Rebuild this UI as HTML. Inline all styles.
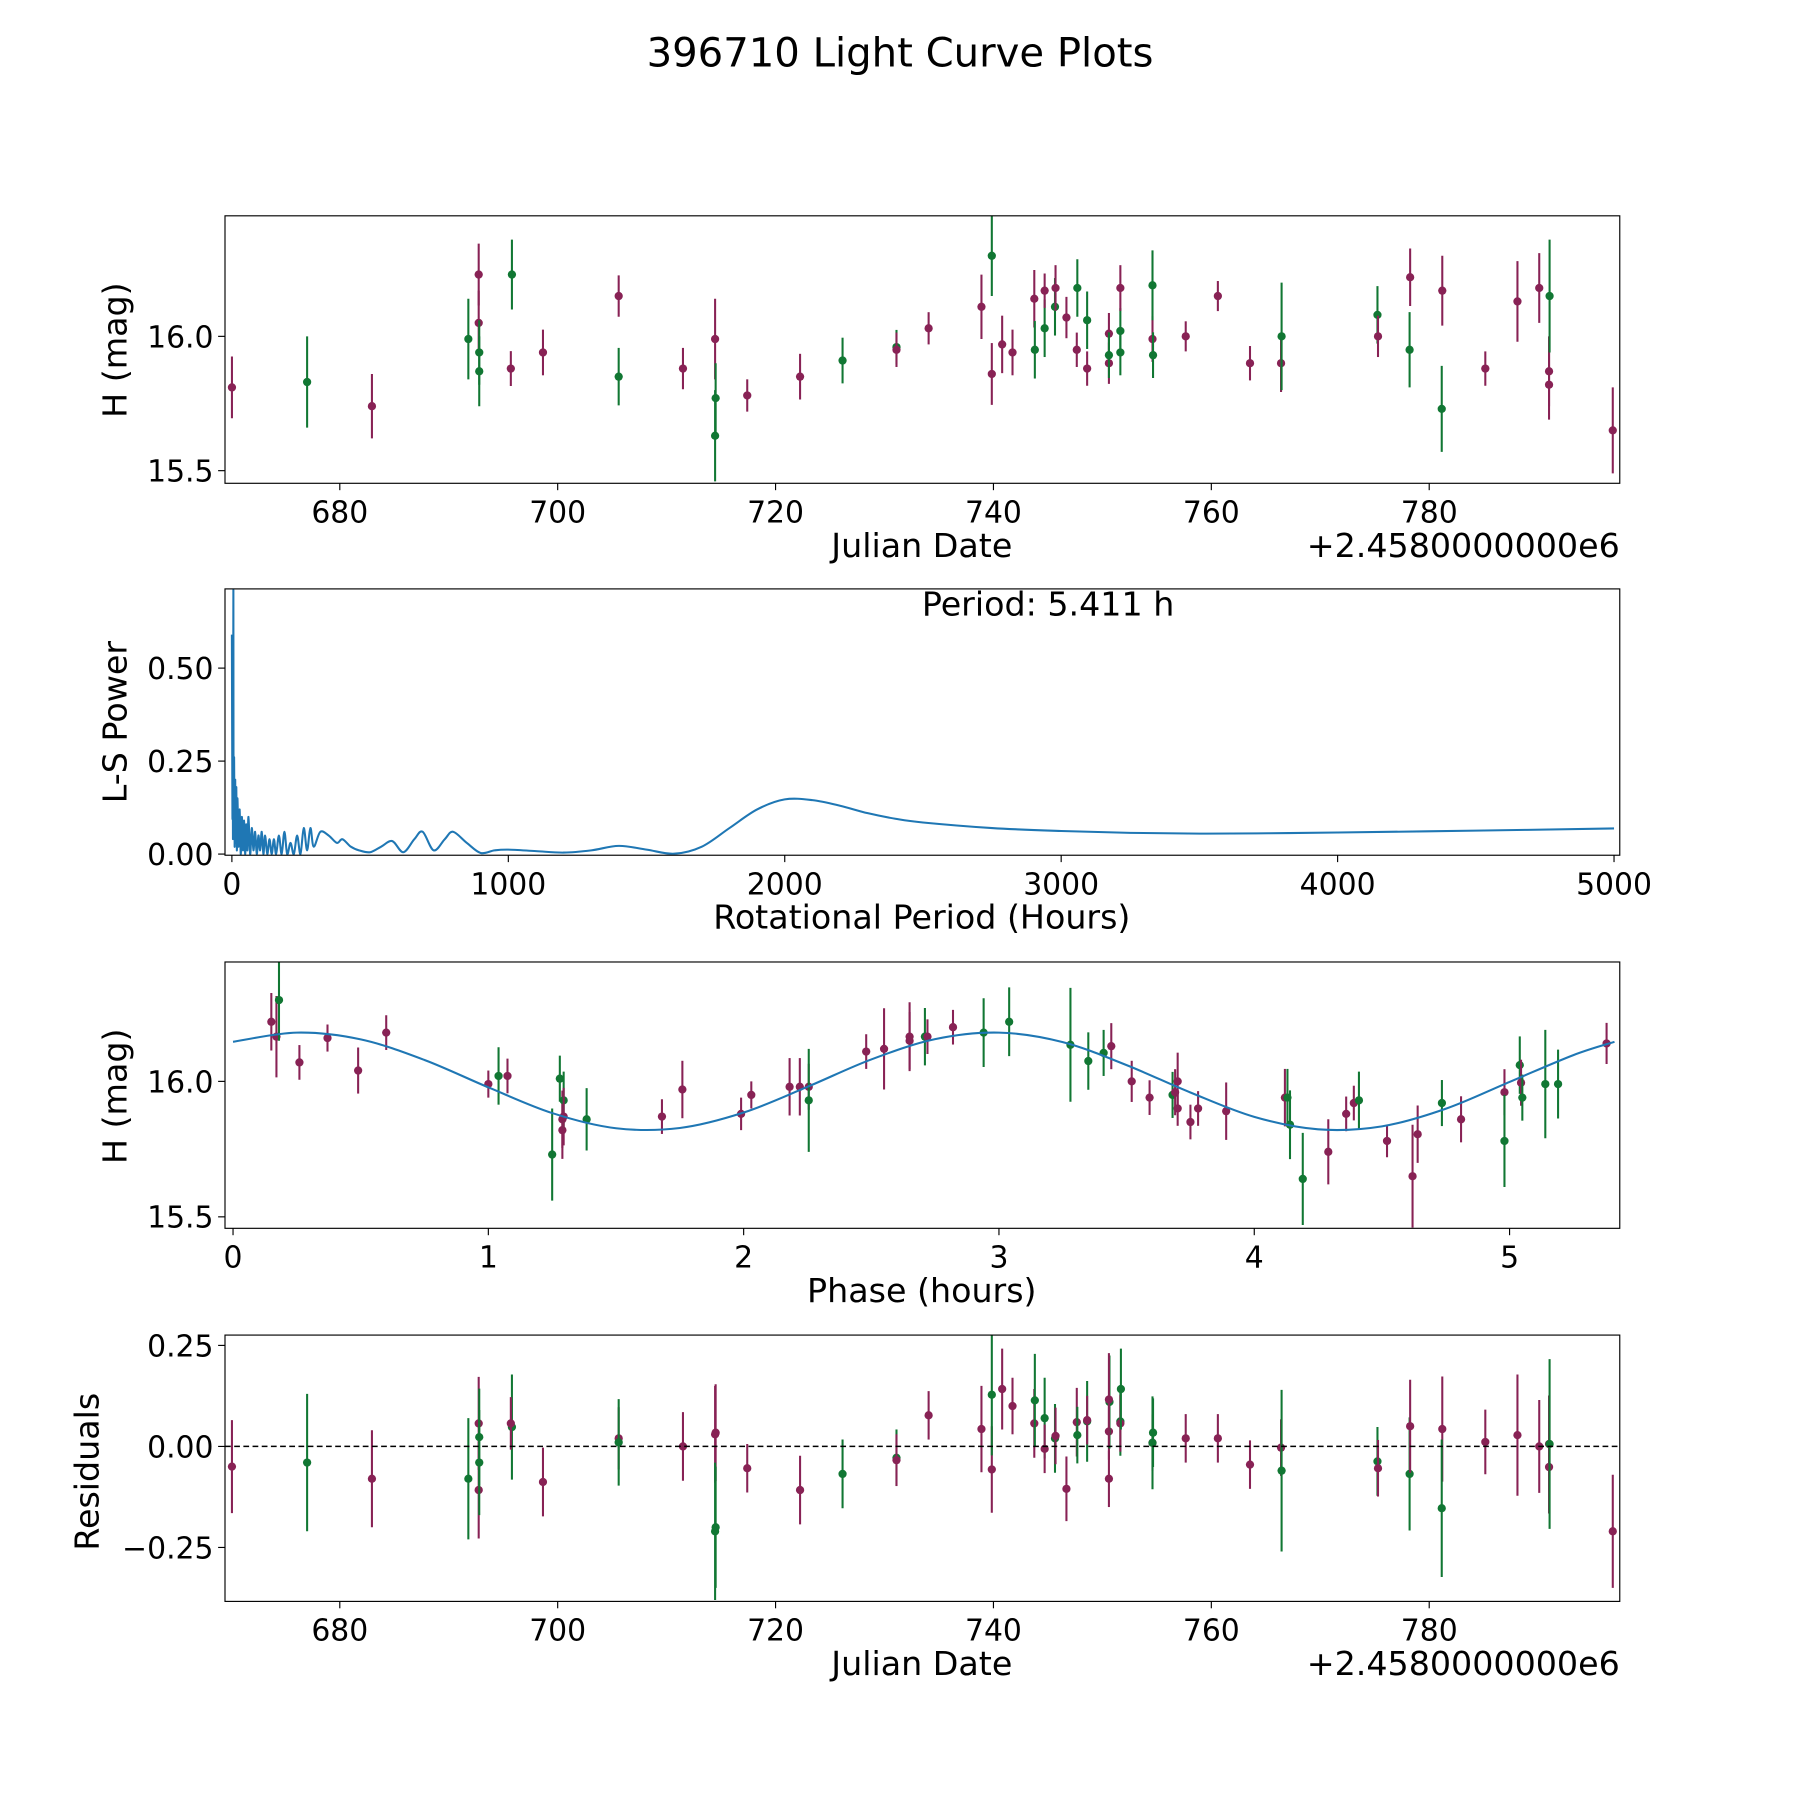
<!DOCTYPE html>
<html><head><meta charset="utf-8"><style>
html,body{margin:0;padding:0;background:#fff}
svg{display:block}
text{font-family:"DejaVu Sans","Liberation Sans",sans-serif;fill:#000}
</style></head><body>
<svg id="fig" xmlns="http://www.w3.org/2000/svg" width="1800" height="1800" viewBox="0 0 1568 1568">
<rect width="1568" height="1568" fill="#fff"/>
<text x="784" y="58" font-size="35" text-anchor="middle">396710 Light Curve Plots</text>
<g id="g1"></g>
<g id="g2"></g>
<g id="g3"></g>
<g id="g4"></g>
</svg>
<script>
// ---- Panel 1: light curve ----
const lcJd = [670.1,677.0,682.95,691.8,692.75,692.75,692.8,692.8,695.8,695.7,698.65,705.6,705.6,711.5,714.45,714.5,714.45,717.4,722.25,726.15,731.1,731.1,734.05,738.9,739.85,739.85,740.8,741.75,743.75,743.8,744.7,744.7,745.65,745.7,746.7,747.65,747.7,748.6,748.6,750.6,750.6,750.6,751.65,751.65,751.65,754.6,754.6,754.65,757.65,760.6,763.55,766.4,766.45,775.25,775.3,778.2,778.25,781.2,781.15,785.15,788.1,790.1,791.0,791.0,791.05,796.85];
const lcMag = [15.81,15.83,15.74,15.99,16.23,16.05,15.94,15.87,16.23,15.88,15.94,16.15,15.85,15.88,15.99,15.77,15.63,15.78,15.85,15.91,15.96,15.95,16.03,16.11,15.86,16.30,15.97,15.94,16.14,15.95,16.03,16.17,16.11,16.18,16.07,15.95,16.18,16.06,15.88,16.01,15.90,15.93,16.02,16.18,15.94,15.99,16.19,15.93,16.00,16.15,15.90,15.90,16.00,16.08,16.00,15.95,16.22,16.17,15.73,15.88,16.13,16.18,15.87,15.82,16.15,15.65];
const lcErr = [0.115,0.17,0.12,0.15,0.115,0.12,0.12,0.13,0.13,0.065,0.085,0.077,0.107,0.077,0.15,0.13,0.17,0.06,0.085,0.085,0.064,0.064,0.06,0.12,0.115,0.15,0.107,0.085,0.107,0.107,0.107,0.064,0.107,0.085,0.077,0.064,0.107,0.107,0.064,0.077,0.077,0.085,0.085,0.085,0.085,0.085,0.13,0.085,0.056,0.056,0.064,0.107,0.2,0.107,0.077,0.14,0.107,0.13,0.16,0.064,0.15,0.13,0.13,0.13,0.21,0.16];
const lcBand = ['r','g','r','g','r','r','g','g','g','r','r','r','g','r','r','g','g','r','r','g','g','r','r','r','r','g','r','r','r','g','g','r','g','r','r','r','g','g','r','r','r','g','g','r','g','r','g','g','r','r','r','r','g','g','r','g','r','r','g','r','r','r','r','r','g','r'];
const lcXTicks = [680,700,720,740,760,780];
const lcYTicks = [15.5,16.0];

// ---- Panel 2: periodogram ----
const lsPeriod = [0,2,3,4,5.4,6,8,10,12,14,16,18,20,24,28,32,36,40,44,48,52,56,60,66,72,78,84,90,96,102,108,114,120,128,136,144,152,160,170,180,190,200,212,224,236,248,260,272,284,296,320,350,380,400,430,460,500,540,580,620,660,690,730,770,800,850,900,950,1000,1100,1200,1300,1400,1500,1600,1700,1800,1900,2000,2100,2200,2300,2400,2500,2750,3000,3250,3500,3750,4000,4500,5000];
const lsPower = [0.59,0.1,0.3,0.05,0.71,0.1,0.26,0.02,0.2,0.03,0.18,0.01,0.15,0.02,0.12,0.0,0.1,0.01,0.09,0.0,0.08,0.01,0.1,0.0,0.07,0.01,0.06,0.0,0.05,0.01,0.06,0.0,0.05,0.0,0.04,0.0,0.04,0.0,0.05,0.0,0.06,0.0,0.03,0.0,0.05,0.0,0.07,0.01,0.07,0.02,0.06,0.05,0.03,0.04,0.02,0.01,0.005,0.02,0.035,0.005,0.04,0.06,0.01,0.04,0.06,0.03,0.003,0.01,0.012,0.008,0.004,0.01,0.022,0.012,0.001,0.02,0.07,0.12,0.147,0.145,0.13,0.11,0.095,0.085,0.07,0.062,0.057,0.055,0.056,0.058,0.063,0.069];
const lsXTicks = [0,1000,2000,3000,4000,5000];
const lsYTicks = [0.00,0.25,0.50];

// ---- Panel 3: phase folded ----
const phPhase = [0.15,0.17,0.18,0.26,0.37,0.49,0.60,1.00,1.04,1.075,1.25,1.28,1.29,1.29,1.295,1.295,1.385,1.68,1.76,1.99,2.03,2.18,2.22,2.255,2.255,2.48,2.55,2.65,2.65,2.71,2.72,2.82,2.94,3.04,3.28,3.35,3.41,3.44,3.52,3.59,3.68,3.69,3.70,3.70,3.75,3.78,3.89,4.12,4.13,4.14,4.19,4.29,4.36,4.39,4.41,4.52,4.62,4.64,4.81,4.735,4.98,4.98,5.04,5.045,5.05,5.14,5.19,5.38];
const phMag = [16.22,16.165,16.30,16.07,16.16,16.04,16.18,15.99,16.02,16.02,15.73,16.01,15.86,15.82,15.93,15.87,15.86,15.87,15.97,15.88,15.95,15.98,15.98,15.98,15.93,16.11,16.12,16.15,16.165,16.165,16.165,16.20,16.18,16.22,16.135,16.075,16.105,16.13,16.0,15.94,15.95,15.96,15.90,16.0,15.85,15.90,15.89,15.94,15.94,15.84,15.64,15.74,15.88,15.92,15.93,15.78,15.65,15.805,15.86,15.92,15.96,15.78,16.06,15.995,15.94,15.99,15.99,16.14];
const phErr = [0.106,0.15,0.15,0.064,0.05,0.085,0.064,0.05,0.106,0.064,0.17,0.085,0.106,0.106,0.106,0.106,0.115,0.064,0.106,0.06,0.05,0.106,0.106,0.085,0.19,0.064,0.15,0.106,0.127,0.106,0.064,0.064,0.127,0.127,0.21,0.106,0.085,0.085,0.076,0.064,0.085,0.085,0.064,0.106,0.064,0.064,0.106,0.106,0.106,0.127,0.17,0.12,0.064,0.064,0.106,0.06,0.19,0.106,0.085,0.085,0.085,0.17,0.106,0.085,0.085,0.2,0.127,0.076];
const phBand = ['r','r','g','r','r','r','r','r','g','r','g','g','r','r','g','r','g','r','r','r','r','r','r','r','g','r','r','r','r','g','r','r','g','g','g','g','g','r','r','r','g','r','r','r','r','r','r','r','g','g','g','r','r','r','g','r','r','r','r','g','r','g','g','r','g','g','g','r'];
const fitPhase = [0,0.25,0.5,0.75,1.0,1.25,1.5,1.75,2.0,2.25,2.5,2.75,3.0,3.25,3.5,3.75,4.0,4.25,4.5,4.75,5.0,5.25,5.411];
const fitMag = [16.146,16.18,16.155,16.079,15.978,15.883,15.827,15.828,15.885,15.98,16.081,16.156,16.18,16.145,16.06,15.959,15.869,15.823,15.834,15.899,15.998,16.097,16.146];
const phXTicks = [0,1,2,3,4,5];
const phYTicks = [15.5,16.0];

// ---- Panel 4: residuals ----
const resJd = [670.1,677.0,682.95,691.8,692.75,692.75,692.8,692.8,695.8,695.7,698.65,705.6,705.6,711.5,714.45,714.5,714.5,714.45,717.4,722.25,726.15,731.1,731.1,734.05,738.9,739.85,739.85,740.8,741.75,743.75,743.8,744.7,744.7,745.65,745.7,746.7,747.65,747.7,748.6,748.6,750.6,750.6,750.65,750.6,751.65,751.65,751.7,754.6,754.6,754.65,757.65,760.6,763.55,766.4,766.45,775.25,775.3,778.2,778.25,781.2,781.15,785.15,788.1,790.1,791.0,791.0,791.05,796.85];
const resVal = [-0.05,-0.04,-0.08,-0.08,0.057,-0.108,0.023,-0.04,0.048,0.057,-0.088,0.02,0.01,0.0,0.03,0.034,-0.2,-0.21,-0.054,-0.108,-0.068,-0.028,-0.034,0.077,0.043,-0.057,0.128,0.142,0.1,0.057,0.114,0.07,-0.006,0.02,0.026,-0.105,0.06,0.028,0.062,0.065,-0.08,0.037,0.11,0.116,0.062,0.057,0.142,0.009,0.009,0.034,0.02,0.02,-0.045,-0.003,-0.06,-0.037,-0.054,-0.068,0.05,0.043,-0.153,0.011,0.028,0.0,-0.051,0.006,0.006,-0.21];
const resErr = [0.115,0.17,0.12,0.15,0.115,0.12,0.12,0.13,0.13,0.065,0.085,0.077,0.107,0.085,0.12,0.12,0.15,0.17,0.06,0.085,0.085,0.07,0.064,0.06,0.107,0.107,0.15,0.1,0.07,0.085,0.115,0.1,0.06,0.085,0.07,0.08,0.085,0.07,0.1,0.06,0.07,0.07,0.115,0.115,0.085,0.07,0.1,0.07,0.115,0.085,0.06,0.06,0.06,0.07,0.2,0.085,0.07,0.14,0.115,0.13,0.17,0.08,0.15,0.115,0.115,0.12,0.21,0.14];
const resBand = ['r','g','r','g','r','r','g','g','g','r','r','r','g','r','r','r','g','g','r','r','g','g','r','r','r','r','g','r','r','r','g','g','r','g','r','r','r','g','g','r','r','r','g','r','g','r','g','r','g','g','r','r','r','r','g','g','r','g','r','r','g','r','r','r','r','r','g','r'];
const resYTicks = [-0.25,0.00,0.25];

const NS='http://www.w3.org/2000/svg';
const COL={r:'#882255',g:'#117733'};
const TF=26, LF=29;
function mk(tag,attrs,parent){const e=document.createElementNS(NS,tag);for(const k in attrs)e.setAttribute(k,attrs[k]);parent.appendChild(e);return e;}
function lin(d0,d1,p0,p1){return v=>p0+(v-d0)*(p1-p0)/(d1-d0);}
function smooth(P){let d='M'+P[0][0]+' '+P[0][1];
  for(let i=0;i<P.length-1;i++){const p0=P[Math.max(0,i-1)],p1=P[i],p2=P[i+1],p3=P[Math.min(P.length-1,i+2)];
    d+='C'+(p1[0]+(p2[0]-p0[0])/6)+' '+(p1[1]+(p2[1]-p0[1])/6)+' '+(p2[0]-(p3[0]-p1[0])/6)+' '+(p2[1]-(p3[1]-p1[1])/6)+' '+p2[0]+' '+p2[1];}
  return d;}

function frame(g,L,T,R,B){
  const r=mk('rect',{x:L,y:T,width:R-L,height:B-T,fill:'none',stroke:'#000','stroke-width':1},g);
  
  
}
function xTicks(g,ticks,sx,B,fmt){
  ticks.forEach(t=>{const x=sx(t);
    const l=mk('line',{x1:x,x2:x,y1:B,y2:B+6,stroke:'#000','stroke-width':1},g);
    
    
    const tx=mk('text',{x:x,y:B+34,'font-size':TF,'text-anchor':'middle'},g);tx.textContent=fmt(t);
    
    });
}
function yTicks(g,ticks,sy,L,fmt){
  ticks.forEach(t=>{const y=sy(t);
    const l=mk('line',{x1:L-6,x2:L,y1:y,y2:y,stroke:'#000','stroke-width':1},g);
    
    
    const tx=mk('text',{x:L-10,y:y+9.5,'font-size':TF,'text-anchor':'end'},g);tx.textContent=fmt(t);
    
    });
}
function label(g,txt,x,y,rot,name){
  const t=mk('text',{x:x,y:y,'font-size':LF,'text-anchor':'middle'},g);
  if(rot)t.setAttribute('transform','rotate(-90 '+x+' '+y+')');
  t.textContent=txt;
  
  
}
function points(g,xs,ys,es,bs,sx,sy){
  xs.forEach((v,i)=>{const x=sx(v),c=COL[bs[i]];
    const l=mk('line',{x1:x,x2:x,y1:sy(ys[i]-es[i]),y2:sy(ys[i]+es[i]),stroke:c,'stroke-width':1.8},g);
    
    
    const p=mk('circle',{cx:x,cy:sy(ys[i]),r:3.6,fill:c},g);
    
    });
}
const fmt1=v=>v.toFixed(1), fmt0=v=>String(v), fmt2=v=>(v<0?'\u2212':'')+Math.abs(v).toFixed(2);

// Panel 1
(function(){const g=document.getElementById('g1');const L=196,R=1411,T=188,B=421;
  const sx=lin(680,780,296,1245), sy=lin(16.0,15.5,293,410);
  const cp=mk('clipPath',{id:'c1'},g);mk('rect',{x:L,y:T,width:R-L,height:B-T},cp);
  const pg=mk('g',{'clip-path':'url(#c1)'},g);
  
  
  points(pg,lcJd,lcMag,lcErr,lcBand,sx,sy);
  frame(g,L,T,R,B);xTicks(g,lcXTicks,sx,B,fmt0);yTicks(g,lcYTicks,sy,L,fmt1);
  label(g,'Julian Date',803,485,false,'x-axis-title');
  const o=mk('text',{x:1411,y:485,'font-size':LF,'text-anchor':'end'},g);o.textContent='+2.4580000000e6';
  
  
  label(g,'H (mag)',110,305,true,'y-axis-title');
})();

// Panel 2
(function(){const g=document.getElementById('g2');const L=196,R=1411,T=513,B=745;
  const sx=lin(0,5000,202,1406), sy=lin(0,0.5,744,582);
  const cp=mk('clipPath',{id:'c2'},g);mk('rect',{x:L,y:T,width:R-L,height:B-T},cp);
  const P=lsPeriod.map((p,i)=>[sx(p),sy(lsPower[i])]);
  const pa=mk('path',{d:smooth(P),fill:'none',stroke:'#1f77b4','stroke-width':1.8,'stroke-linejoin':'round','clip-path':'url(#c2)'},g);
  
  
  frame(g,L,T,R,B);xTicks(g,lsXTicks,sx,B,fmt0);yTicks(g,lsYTicks,sy,L,v=>v.toFixed(2));
  const pt=mk('text',{x:913,y:536,'font-size':LF,'text-anchor':'middle'},g);pt.textContent='Period: 5.411 h';
  
  
  label(g,'Rotational Period (Hours)',803,809,false,'x-axis-title');
  label(g,'L-S Power',110,629,true,'y-axis-title');
})();

// Panel 3
(function(){const g=document.getElementById('g3');const L=196,R=1411,T=838,B=1070;
  const sx=lin(0,5,203,1315), sy=lin(16.0,15.5,942,1060);
  const cp=mk('clipPath',{id:'c3'},g);mk('rect',{x:L,y:T,width:R-L,height:B-T},cp);
  const pg=mk('g',{'clip-path':'url(#c3)'},g);
  
  
  points(pg,phPhase,phMag,phErr,phBand,sx,sy);
  const P=fitPhase.map((p,i)=>[sx(p),sy(fitMag[i])]);
  const fc=mk('path',{d:smooth(P),fill:'none',stroke:'#1f77b4','stroke-width':1.8},g);
  
  
  frame(g,L,T,R,B);xTicks(g,phXTicks,sx,B,fmt0);yTicks(g,phYTicks,sy,L,fmt1);
  label(g,'Phase (hours)',803,1134,false,'x-axis-title');
  label(g,'H (mag)',110,955,true,'y-axis-title');
})();

// Panel 4
(function(){const g=document.getElementById('g4');const L=196,R=1411,T=1163,B=1395;
  const sx=lin(680,780,296,1245), sy=lin(0,0.25,1260,1172);
  const cp=mk('clipPath',{id:'c4'},g);mk('rect',{x:L,y:T,width:R-L,height:B-T},cp);
  const pg=mk('g',{'clip-path':'url(#c4)'},g);
  
  
  points(pg,resJd,resVal,resErr,resBand,sx,sy);
  const z=mk('line',{x1:L,x2:R,y1:sy(0),y2:sy(0),stroke:'#000','stroke-width':1.3,'stroke-dasharray':'5,3'},g);
  
  
  frame(g,L,T,R,B);xTicks(g,lcXTicks,sx,B,fmt0);yTicks(g,resYTicks,sy,L,fmt2);
  label(g,'Julian Date',803,1459,false,'x-axis-title');
  const o=mk('text',{x:1411,y:1459,'font-size':LF,'text-anchor':'end'},g);o.textContent='+2.4580000000e6';
  
  
  label(g,'Residuals',86,1282,true,'y-axis-title');
})();
</script>
</body></html>
